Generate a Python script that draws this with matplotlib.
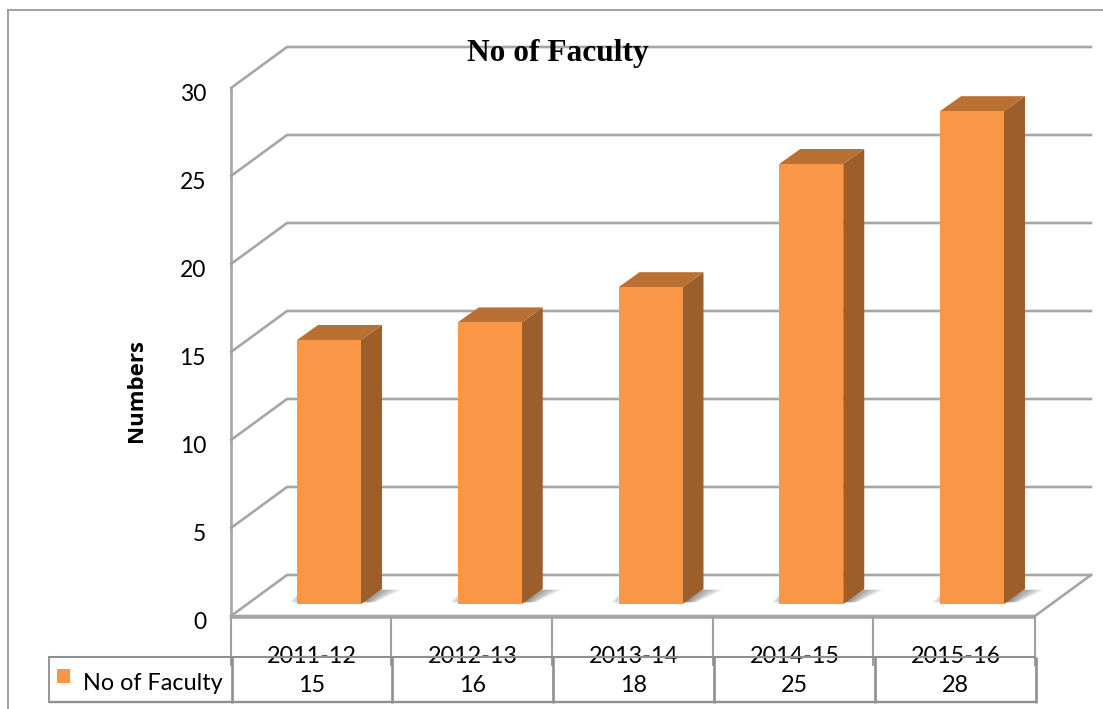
import matplotlib
matplotlib.use("Agg")
import matplotlib.pyplot as plt
from matplotlib.patches import Polygon

# data
years = ["2011-12", "2012-13", "2013-14", "2014-15", "2015-16"]
faculty = [15, 16, 18, 25, 28]
y_ticks = [0, 5, 10, 15, 20, 25, 30]

W, H = 1103, 709
FONT = "Lato"
GRID = "#a6a6a6"
TABLE = "#8f8f8f"

# pixel layout of the chart
BAR_ZERO = 604      # pixel row of value 0 on the bar fronts
PX_PER_UNIT = 17.6
FIRST_BAR = 329     # pixel column of the first bar centre
PX_PER_CAT = 160.75


def px_x(p):
    return (p - FIRST_BAR) / PX_PER_CAT


def px_y(p):
    return (BAR_ZERO - p) / PX_PER_UNIT


fig = plt.figure(figsize=(W / 100, H / 100), dpi=100)
ax = fig.add_axes([0, 0, 1, 1])
ax.set_xlim(px_x(0), px_x(W))
ax.set_ylim(px_y(H), px_y(0))
ax.axis("off")


def line(x0, y0, x1, y1, color=GRID, lw=1.6, z=1):
    ax.plot([px_x(x0), px_x(x1)], [px_y(y0), px_y(y1)], color=color, lw=lw,
            zorder=z, solid_capstyle="butt")


# outer frame, only top and left show
line(7, 10, W, 10, color="#999999", lw=1.3)
line(8, 10, 8, H, color="#999999", lw=1.3)

# walls and floor
wall_front_zero = px_y(616)
wall_back_zero = px_y(575)
dx_wall = 56 / PX_PER_CAT
x_left = px_x(231)
x_right = px_x(1035)
for t in y_ticks:
    yf = wall_front_zero + t
    yb = wall_back_zero + t
    ax.plot([x_left, x_left + dx_wall, x_right + dx_wall], [yf, yb, yb],
            color=GRID, lw=1.9, zorder=1, solid_joinstyle="miter")
ax.plot([x_left, x_left], [wall_front_zero, wall_front_zero + max(y_ticks)],
        color=GRID, lw=1.9, zorder=1)
ax.plot([x_left, x_right, x_right + dx_wall],
        [wall_front_zero, wall_front_zero, wall_back_zero],
        color=GRID, lw=1.9, zorder=1)

# bars with their depth faces
positions = list(range(len(years)))
bar_w = 64 / PX_PER_CAT
dx = 21 / PX_PER_CAT
dy = 15 / PX_PER_UNIT
for pos, val in zip(positions, faculty):
    r = pos + bar_w / 2
    l = pos - bar_w / 2
    # soft shadow on the floor
    for i in range(10):
        reach = (40 - i * 3.6) / PX_PER_CAT
        ax.add_patch(Polygon([[r, 0.1], [r + dx, dy * 0.95], [r + reach, dy * 0.95],
                              [r + reach * 0.35, 0.1]],
                             fc="#444444", ec="none", alpha=0.1, zorder=2))
    for i in range(4):
        ax.add_patch(Polygon([[l, 0.1], [l - (8 - i * 2) / PX_PER_CAT, 0.1], [l, 0.5]],
                             fc="#777777", ec="none", alpha=0.1, zorder=2))
    ax.add_patch(Polygon([[r, 0], [r + dx, dy], [r + dx, val + dy], [r, val]],
                         fc="#9c5f2b", ec="none", zorder=3))
    ax.add_patch(Polygon([[l, val], [l + dx, val + dy], [r + dx, val + dy], [r, val]],
                         fc="#bb7033", ec="none", zorder=3))
ax.bar(positions, faculty, width=bar_w, color="#f99746", zorder=4)

# y axis tick labels and titles
for t in y_ticks:
    ax.text(px_x(206), wall_front_zero + t - 0.37, str(t), ha="right", va="center",
            fontsize=16.5, family=FONT, color="black", zorder=6)
ax.text(px_x(137), px_y(391), "Numbers", rotation=90, ha="center", va="center",
        fontsize=16, family="Open Sans", fontweight="bold", color="black", zorder=6)
ax.text(px_x(557.5), px_y(53), "No of Faculty", ha="center", va="center",
        fontsize=22.6, family="Liberation Serif", fontweight="bold", color="black", zorder=6)

# data table: the upper category row and the lower value row do not line up exactly
upper_x = [231, 391, 552, 713, 873, 1035]
lower_x = [232, 392, 553, 714, 875, 1036]
line(231, 617, 1035, 617, lw=1.9)
for x in upper_x:
    line(x, 617, x, 666, color="#a0a0a0", lw=1.5)
line(49, 657, 1036, 657, color=TABLE, lw=1.5, z=5)
line(49, 702, 1036, 702, color=TABLE, lw=1.7, z=5)
line(49, 656, 49, 703, color=TABLE, lw=1.3, z=5)
for x in lower_x:
    line(x, 657, x, 703, color=TABLE, lw=1.9, z=5)

for i, (yr, val) in enumerate(zip(years, faculty)):
    cx = px_x((lower_x[i] + lower_x[i + 1]) / 2)
    ax.text(cx, px_y(656.5), yr, ha="center", va="center", fontsize=16.8, family=FONT, zorder=4)
    ax.text(cx, px_y(686), str(val), ha="center", va="center", fontsize=16.8, family=FONT, zorder=6)

# legend key in the table
ax.add_patch(Polygon([[px_x(57), px_y(669)], [px_x(70), px_y(669)],
                      [px_x(70), px_y(683)], [px_x(57), px_y(683)]],
                     fc="#f99746", ec="none", zorder=6))
ax.text(px_x(83), px_y(683.5), "No of Faculty", ha="left", va="center",
        fontsize=16.8, family=FONT, zorder=6)

fig.savefig("out.png", dpi=100)
